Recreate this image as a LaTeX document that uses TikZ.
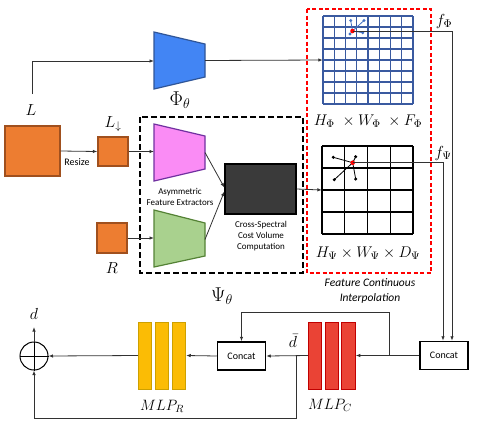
\RequirePackage{fix-cm}
\documentclass[tikz,border=0pt]{standalone}
\usepackage{amsmath}
\usepackage{fontspec}
\setsansfont{Carlito}
\usetikzlibrary{arrows.meta}

\definecolor{imgorange}{RGB}{237,125,49}
\definecolor{imgborder}{RGB}{160,80,30}
\definecolor{phiblue}{RGB}{66,133,244}
\definecolor{phiborder}{RGB}{47,85,151}
\definecolor{gridblue}{RGB}{58,90,160}
\definecolor{ptblue}{RGB}{68,114,196}
\definecolor{asympink}{RGB}{250,140,245}
\definecolor{asymborder}{RGB}{112,48,160}
\definecolor{asymgreen}{RGB}{169,209,142}
\definecolor{greenborder}{RGB}{84,130,53}
\definecolor{costgray}{RGB}{58,58,58}
\definecolor{mlpred}{RGB}{234,67,53}
\definecolor{mlpredborder}{RGB}{192,0,0}
\definecolor{mlpyellow}{RGB}{251,188,5}
\definecolor{mlpyellowborder}{RGB}{205,160,0}
\definecolor{wirecol}{RGB}{50,50,50}
\definecolor{dashred}{RGB}{255,0,0}
\definecolor{ptred}{RGB}{255,0,0}

\begin{document}
\begin{tikzpicture}[x=1pt, y=-1pt,
  wire/.style={draw=wirecol, line width=0.8pt},
  flow/.style={wire, -{Latex[length=4.5pt,width=3.5pt]}},
  imgbox/.style={draw=imgborder, fill=imgorange, line width=1.3pt, inner sep=0pt},
  concatbox/.style={draw=black, line width=1.5pt, minimum width=48pt, minimum height=28pt,
    inner sep=0pt, font=\sffamily\fontsize{10}{12}\selectfont},
  redbar/.style={draw=mlpredborder, fill=mlpred, line width=1pt, minimum width=13.5pt,
    minimum height=67pt, inner sep=0pt},
  yellowbar/.style={draw=mlpyellowborder, fill=mlpyellow, line width=1pt, minimum width=13.5pt,
    minimum height=67pt, inner sep=0pt},
  mathlabel/.style={font=\fontsize{16}{18}\selectfont, inner sep=1pt},
  sizelabel/.style={font=\fontsize{15.5}{18}\selectfont, inner sep=1pt},
  biglabel/.style={font=\fontsize{20}{22}\selectfont, inner sep=1pt},
  smalltext/.style={font=\sffamily\fontsize{9}{11}\selectfont, align=center, inner sep=0pt},
  ]
\useasboundingbox (0,0) rectangle (479,421);

% inputs
\node[imgbox, minimum width=55pt, minimum height=50pt] (Limg) at (32.5,151) {};
\node[mathlabel] (Llab) at (31,110) {$L$};
\node[imgbox, minimum width=30pt, minimum height=29pt] (Ldown) at (113,151.5) {};
\node[mathlabel] (Ldlab) at (113,124) {$L_{\downarrow}$};
\node[smalltext, font=\sffamily\fontsize{10}{12}\selectfont] (resize) at (77,162) {Resize};
\node[imgbox, minimum width=30pt, minimum height=30pt] (Rimg) at (112,238) {};
\node[mathlabel] (Rlab) at (112,268) {$R$};

% encoders
\draw[draw=phiborder, fill=phiblue, line width=1.2pt] (154,32) -- (205,44) -- (205,77) -- (154,89) -- cycle;
\draw[draw=asymborder, fill=asympink, line width=1.2pt] (154,124) -- (205,136) -- (205,169) -- (154,181) -- cycle;
\draw[draw=greenborder, fill=asymgreen, line width=1.2pt] (154,210) -- (205,223) -- (205,256) -- (154,267) -- cycle;
\coordinate (phiin) at (154,61);
\coordinate (phiout) at (205,60.5);
\coordinate (pinkin) at (154,151.5);
\coordinate (pinkout) at (205,152.5);
\coordinate (greenin) at (154,238);
\coordinate (greenout) at (205,239.5);
\coordinate (Lup) at (32,94);
\node[biglabel] (philab) at (180,100) {$\Phi_\theta$};
\node[smalltext] (asym) at (180,196.5) {Asymmetric\\Feature Extractors};

\node[draw=black, fill=costgray, line width=1.3pt, minimum width=71pt, minimum height=50pt] (cost) at (260.5,189) {};
\node[smalltext] (costlab) at (261,236) {Cross-Spectral\\Cost Volume\\Computation};

\draw[line width=1.8pt, dash pattern=on 6pt off 3pt] (140,117) rectangle (303,273);
\node[biglabel] (psilab) at (222,296) {$\Psi_\theta$};

% feature grids
\draw[draw=dashred, line width=1.2pt, dash pattern=on 4pt off 2.5pt] (307,9) rectangle (431,273);
\node[minimum width=90pt, minimum height=88pt, inner sep=0pt] (phigrid) at (368,60) {};
\foreach \i in {0,...,8} {
  \draw[gridblue, line width=1.2pt] (323+11.25*\i,16) -- (323+11.25*\i,104);
  \draw[gridblue, line width=1.2pt] (323,16+11*\i) -- (413,16+11*\i);
}
\node[minimum width=91pt, minimum height=88pt, inner sep=0pt] (psigrid) at (367.5,190) {};
\foreach \i in {0,...,4} {
  \draw[black, line width=1.3pt] (322+22.75*\i,146) -- (322+22.75*\i,234);
  \draw[black, line width=1.3pt] (322,146+22*\i) -- (413,146+22*\i);
}
\coordinate (phired) at (352.5,31);
\coordinate (psired) at (352.7,162.7);
\foreach \p in {(350.7,20.5), (364,20.5), (350,34), (362.7,32.7)} {
  \draw[ptblue, line width=0.8pt] (phired) -- \p;
  \fill[ptblue] \p circle (1.7pt);
}
\foreach \p in {(333.3,157.3), (355.7,156.7), (334.3,179.7), (355.7,179)} {
  \draw[black, line width=0.8pt] (psired) -- \p;
  \fill[black] \p circle (1.7pt);
}
\fill[ptred] (phired) circle (2.3pt);
\fill[ptred] (psired) circle (2.3pt);
\node[sizelabel] (phisize) at (368,121) {$H_\Phi\;\times W_\Phi\;\times F_\Phi$};
\node[sizelabel] (psisize) at (368,253) {$H_\Psi \times W_\Psi \times D_\Psi$};
\node[font=\sffamily\itshape\fontsize{11.5}{15}\selectfont, align=center, inner sep=0pt] (fci) at (370,291) {Feature Continuous\\Interpolation};
\node[mathlabel] (fphi) at (444,21) {$f_\Phi$};
\node[mathlabel] (fpsi) at (443,153) {$f_\Psi$};

% decoder
\node[concatbox] (concatR) at (444,355.5) {Concat};
\node[redbar] (mlpC1) at (315,355.5) {};
\node[redbar] (mlpC2) at (331.8,355.5) {};
\node[redbar] (mlpC3) at (348.6,355.5) {};
\node[mathlabel, font=\fontsize{15}{17}\selectfont] (mlpClab) at (330,405) {$MLP_C$};
\node[concatbox] (concatL) at (241.5,356) {Concat};
\node[mathlabel] (dbar) at (293,341) {$\bar{d}$};
\node[yellowbar] (mlpR1) at (145,355.5) {};
\node[yellowbar] (mlpR2) at (162,355.5) {};
\node[yellowbar] (mlpR3) at (179,355.5) {};
\node[mathlabel, font=\fontsize{15}{17}\selectfont] (mlpRlab) at (162,406) {$MLP_R$};
\node[draw=black, line width=1pt, circle, minimum size=28pt, inner sep=0pt] (sum) at (34,356) {};
\draw[black, line width=0.8pt] (sum.north) -- (sum.south);
\draw[black, line width=0.8pt] (sum.west) -- (sum.east);
\node[mathlabel] (dlab) at (34,314) {$d$};
\coordinate (dout) at (34,327);
\coordinate (skip) at (389,312);
\coordinate (loop) at (296,418);

% connectors
\draw[flow] (Lup) |- (phiin);
\draw[flow] (Limg.east) -- (Ldown.west);
\draw[flow] (Ldown.east) -- (pinkin);
\draw[flow] (Rimg.east) -- (greenin);
\draw[flow] (pinkout) -- ([yshift=1.5pt]cost.west);
\draw[flow] (greenout) -- ([yshift=-2.5pt]cost.west);
\draw[flow] (phiout) -- (phigrid.west);
\draw[flow] (cost.east) -- (psigrid.west);
\draw[flow] (phired) -| ([xshift=8pt]concatR.north);
\draw[flow] (psired) -| ([xshift=-1pt]concatR.north);
\draw[flow] (concatR.west) -- (mlpC3.east);
\draw[flow] (skip |- concatR.west) -- (skip) -| (concatL.north);
\draw[flow] (mlpC1.west) -- (concatL.east);
\draw[flow] (loop |- concatL.east) -- (loop) -| (sum.south);
\draw[flow] (concatL.west) -- (mlpR3.east);
\draw[flow] (mlpR1.west) -- (sum.east);
\draw[flow] (sum.north) -- (dout);
\end{tikzpicture}
\end{document}
